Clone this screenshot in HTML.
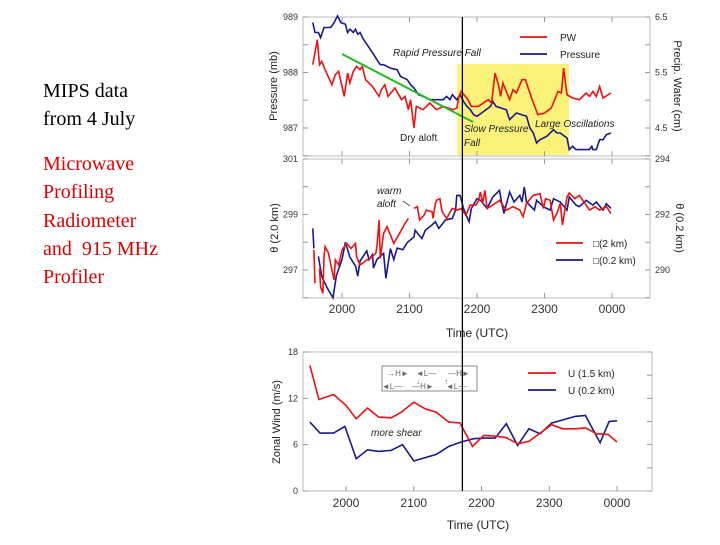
<!DOCTYPE html>
<html><head><meta charset="utf-8"><style>
body{margin:0;background:#fff;width:720px;height:540px;overflow:hidden}
svg text{font-family:"Liberation Sans",sans-serif}
</style></head><body>
<svg id="fig" width="720" height="540" viewBox="0 0 720 540" xmlns="http://www.w3.org/2000/svg">
<g font-family="Liberation Serif,serif" font-size="20">
<text x="43" y="97" fill="#000" style="font-family:'Liberation Serif',serif">MIPS data</text>
<text x="43" y="125" fill="#000" style="font-family:'Liberation Serif',serif">from 4 July</text>
<text x="43" y="170" fill="#e00000" style="font-family:'Liberation Serif',serif">Microwave</text>
<text x="43" y="198" fill="#e00000" style="font-family:'Liberation Serif',serif">Profiling</text>
<text x="43" y="227" fill="#e00000" style="font-family:'Liberation Serif',serif">Radiometer</text>
<text x="43" y="255" fill="#e00000" style="font-family:'Liberation Serif',serif" xml:space="preserve">and  915 MHz</text>
<text x="43" y="283" fill="#e00000" style="font-family:'Liberation Serif',serif">Profiler</text>
</g>
<g id="layer"></g>
</svg>
<script>
const pwTime=[-26,-22,-20,-18,-15,-9,-6,-3,2,5,7,10,13,16,18,21,27,33,35,38,41,47,53,56,59,61,64,66,72,78,84,90,99,102,104,106,112,115,121,130,133,136,139,141,143,149,152,155,160,163,168,174,180,186,192,195,197,200,205,211,217,220,223,226,229,232,239];
const pwVal=[5.64,6.09,5.64,5.70,5.55,5.28,5.46,5.52,5.07,5.49,5.31,5.52,5.61,5.55,5.61,5.37,5.25,5.07,5.19,5.28,5.07,5.22,5.01,5.07,4.83,5.01,4.50,4.89,4.83,4.95,4.83,4.89,4.83,4.86,5.07,5.16,5.01,4.89,4.89,5.01,4.95,5.49,5.28,5.07,5.31,5.01,5.19,5.13,5.37,5.37,5.07,4.74,4.77,4.86,5.16,5.13,5.58,5.10,5.04,5.01,5.13,5.07,5.16,5.07,5.25,5.04,5.13];
const prTime=[-26,-24,-21,-19,-16,-10,-7,-4,-1,3,5,7,10,12,14,16,19,22,25,28,31,34,37,43,49,52,58,61,64,68,72,78,90,93,96,98,102,105,108,111,114,117,120,126,132,134,137,146,149,152,155,164,167,170,173,176,182,188,191,194,200,202,205,208,220,222,223,226,229,232,235,239];
const prVal=[988.90,988.72,988.72,988.63,988.81,988.81,988.90,989.02,988.90,988.87,988.72,988.78,988.72,988.78,988.69,988.72,988.60,988.51,988.42,988.33,988.23,988.14,988.14,988.08,988.05,987.93,987.87,987.78,987.72,987.60,987.57,987.51,987.51,987.57,987.51,987.60,987.51,987.60,987.48,987.39,987.33,987.24,987.21,987.30,987.39,987.48,987.39,987.33,987.15,987.21,987.27,987.21,987.00,986.91,986.73,986.79,986.85,986.97,986.91,986.91,986.82,986.61,986.67,986.61,986.61,986.67,986.61,986.61,986.79,986.79,986.88,986.91];
const prTicks=[989,988,987];
const pwTicks=[6.5,5.5,4.5];
const t2Time=[-25,-24,null,-20,-19,-17,-16,-15,-12,-9,-7,-6,-3,0,4,8,12,13,16,22,25,30,31,33,34,37,40,46,52,56,59,null,64,67,69,73,75,80,81,83,84,87,89,93,98,102,106,110,114,119,121,123,125,127,129,134,140,146,152,158,161,164,170,176,179,181,185,188,191,194,196,200,202,207,211,216,220,225,229,235,239];
const t2Val=[297.72,296.52,null,297.06,296.40,296.16,297.48,297.84,297.60,297.00,296.64,297.36,297.18,297.72,297.96,297.78,297.96,297.48,297.18,297.36,297.42,297.60,297.84,298.80,297.42,298.32,298.56,297.96,298.38,298.68,298.86,null,299.22,299.28,298.80,298.98,299.16,299.10,298.86,299.40,299.51,299.57,299.10,298.86,299.22,299.16,299.22,298.98,299.34,299.34,299.46,299.81,299.40,299.87,299.22,299.34,299.51,299.16,299.28,299.16,298.92,299.40,299.69,299.75,299.22,299.57,299.51,298.80,299.04,299.40,298.62,299.63,299.78,299.57,299.69,299.40,299.16,299.28,299.16,299.28,299.04,299.16];
const t02Time=[-26,-25,null,-21,-18,-13,-8,-5,0,3,7,12,14,16,22,24,27,28,31,37,39,43,46,49,54,58,64,65,71,74,80,83,86,92,98,101,102,105,108,111,113,115,120,123,129,134,140,142,144,149,153,158,160,162,164,171,173,179,185,188,194,200,202,208,211,217,223,226,232,235,239];
const t02Val=[291.50,290.78,null,290.49,289.76,289.34,289.00,289.80,290.38,291.00,290.46,290.14,289.78,290.32,290.69,290.37,290.55,290.07,290.38,290.60,289.70,290.77,290.37,290.79,290.73,290.99,291.19,291.43,291.13,291.43,291.62,291.74,291.50,291.80,291.86,292.16,292.69,292.69,292.22,291.92,291.74,292.22,292.57,292.51,292.22,292.63,292.87,292.39,292.04,292.81,292.45,292.69,292.45,292.99,292.45,292.16,292.51,292.28,292.16,292.57,292.45,292.16,292.63,292.34,292.28,292.51,292.34,292.45,292.16,292.39,292.22];
const th2Ticks=[301,299,297];
const th02Ticks=[294,292,290];
const u15Time=[-32,-24,-11,0,9,19,29,40,49,60,70,80,91,101,112,122,132,142,152,162,172,182,192,203,212,222,232,240];
const u15Val=[16.25,11.85,12.5,11.08,9.35,10.73,9.57,9.48,10.2,11.5,10.65,10.2,8.92,8.8,5.78,7.2,7.11,6.9,6.12,6.42,7.5,8.58,8.06,8.06,8.19,7.41,7.33,6.34];
const u02Time=[-32,-23,-11,-1,9,19,29,40,50,60,80,91,102,113,122,132,142,152,162,172,182,203,212,225,233,240];
const u02Val=[8.92,7.5,7.5,8.36,4.18,5.34,5.13,5.26,5.99,3.88,4.74,5.78,6.34,6.77,6.85,6.85,8.71,5.91,8.06,7.41,8.79,9.66,9.78,6.25,9.0,9.09];
const uTicks=[18,12,6,0];
const timeTickMin=[0,60,120,180,240];
const timeTickLabels=['2000','2100','2200','2300','0000'];
const eventMin=107;

const NS='http://www.w3.org/2000/svg';
const layer=document.getElementById('layer');
function mk(tag,attrs,parent){const e=document.createElementNS(NS,tag);for(const k in attrs)e.setAttribute(k,attrs[k]);(parent||layer).appendChild(e);return e;}
function txt(s,attrs,parent){const e=mk('text',attrs,parent);e.textContent=s;return e;}
function lin(d0,d1,r0,r1){return v=>r0+(v-d0)*(r1-r0)/(d1-d0);}
function pathOf(ts,vs,xf,yf){let d='',pen=false;for(let i=0;i<ts.length;i++){if(ts[i]===null||vs[i]===null){pen=false;continue;}d+=(pen?'L':'M')+xf(ts[i]).toFixed(1)+','+yf(vs[i]).toFixed(1);pen=true;}return d;}

const xTop=lin(0,240,342,612);
const xBot=lin(0,240,346,617);
const yPr=lin(989,987,17,128);
const yPw=lin(6.5,4.5,17,128);
const yT2=lin(301,297,159,270);
const yT02=lin(294,290,159,270);
const yU=lin(18,0,352,491);
const TF=9;

let g1=mk('g',{});


let hl=mk('rect',{x:457,y:64,width:112,height:91,fill:'#fbf27a'},g1);


let b1=mk('rect',{x:303,y:17,width:347,height:139,fill:'none',stroke:'#bbb','stroke-width':1},g1);


prTicks.forEach(v=>{const y=yPr(v);
 let t=txt(String(v),{x:298,y:y+3,'font-size':TF,'text-anchor':'end',fill:'#333'},g1);
 
 
 mk('line',{x1:303,x2:308,y1:y,y2:y,stroke:'#999'},g1);
 mk('line',{x1:303,x2:308,y1:y+27.7,y2:y+27.7,stroke:'#999'},g1);});
pwTicks.forEach(v=>{const y=yPw(v);
 let t=txt(String(v),{x:655,y:y+3,'font-size':TF,fill:'#333'},g1);
 
 
 mk('line',{x1:645,x2:650,y1:y,y2:y,stroke:'#999'},g1);
 mk('line',{x1:645,x2:650,y1:y+27.7,y2:y+27.7,stroke:'#999'},g1);});
timeTickMin.forEach(m=>{mk('line',{x1:xTop(m),x2:xTop(m),y1:151,y2:156,stroke:'#999'},g1);mk('line',{x1:xTop(m),x2:xTop(m),y1:17,y2:22,stroke:'#999'},g1);});
let prL=mk('path',{d:pathOf(prTime,prVal,xTop,yPr),fill:'none',stroke:'#1a1a8c','stroke-width':1.6},g1);


let pwL=mk('path',{d:pathOf(pwTime,pwVal,xTop,yPw),fill:'none',stroke:'#f01010','stroke-width':1.6},g1);


let gl=mk('line',{x1:342,y1:54,x2:473,y2:122,stroke:'#22bb22','stroke-width':2},g1);


let yl1=txt('Pressure (mb)',{transform:'translate(277,86) rotate(-90)','font-size':11,'text-anchor':'middle',fill:'#222'},g1);


let yr1=txt('Precip. Water (cm)',{transform:'translate(674,86) rotate(90)','font-size':11,'text-anchor':'middle',fill:'#222'},g1);


[['#f01010','PW',37],['#1a1a8c','Pressure',54]].forEach(a=>{
 let l=mk('line',{x1:520,x2:547,y1:a[2],y2:a[2],stroke:a[0],'stroke-width':1.8},g1);
 
 
 let t=txt(a[1],{x:560,y:a[2]+4,'font-size':10,fill:'#222'},g1);
 
 });
[['Rapid Pressure Fall',393,56,1],['Dry aloft',400,141,0],['Slow Pressure',464,132,1],['Fall',464,146,1],['Large Oscillations',535,127,1]].forEach(a=>{
 let t=txt(a[0],{x:a[1],y:a[2],'font-size':10,fill:'#222','font-style':a[3]?'italic':'normal'},g1);
 
 });

let g2=mk('g',{});


let b2=mk('rect',{x:303,y:159,width:347,height:139,fill:'none',stroke:'#bbb'},g2);


th2Ticks.forEach(v=>{const y=yT2(v);
 let t=txt(String(v),{x:298,y:y+3,'font-size':TF,'text-anchor':'end',fill:'#333'},g2);
 
 
 mk('line',{x1:303,x2:308,y1:y+27.7,y2:y+27.7,stroke:'#999'},g2);mk('line',{x1:303,x2:308,y1:y,y2:y,stroke:'#999'},g2);});
th02Ticks.forEach(v=>{const y=yT02(v);
 let t=txt(String(v),{x:655,y:y+3,'font-size':TF,fill:'#333'},g2);
 
 
 mk('line',{x1:645,x2:650,y1:y+27.7,y2:y+27.7,stroke:'#999'},g2);mk('line',{x1:645,x2:650,y1:y,y2:y,stroke:'#999'},g2);});
timeTickMin.forEach((m,i)=>{mk('line',{x1:xTop(m),x2:xTop(m),y1:159,y2:164,stroke:'#999'},g2);mk('line',{x1:xTop(m),x2:xTop(m),y1:293,y2:298,stroke:'#999'},g2);
 let t=txt(timeTickLabels[i],{x:xTop(m),y:313,'font-size':12,'text-anchor':'middle',fill:'#333'},g2);
 
 });
let t02L=mk('path',{d:pathOf(t02Time,t02Val,xTop,yT02),fill:'none',stroke:'#1a1a8c','stroke-width':1.6},g2);


let t2L=mk('path',{d:pathOf(t2Time,t2Val,xTop,yT2),fill:'none',stroke:'#f01010','stroke-width':1.6},g2);


let yl2=txt('θ (2.0 km)',{transform:'translate(278,228) rotate(-90)','font-size':11,'text-anchor':'middle',fill:'#222'},g2);


let yr2=txt('θ (0.2 km)',{transform:'translate(676,228) rotate(90)','font-size':11,'text-anchor':'middle',fill:'#222'},g2);


[['#f01010','□(2 km)',243],['#1a1a8c','□(0.2 km)',260]].forEach(a=>{
 let l=mk('line',{x1:556,x2:583,y1:a[2],y2:a[2],stroke:a[0],'stroke-width':1.8},g2);
 
 
 let t=txt(a[1],{x:593,y:a[2]+4,'font-size':10,fill:'#222'},g2);
 
 });
let wa=txt('warm',{x:377,y:194,'font-size':10,'font-style':'italic',fill:'#222'},g2);


let wb=txt('aloft',{x:377,y:207,'font-size':10,'font-style':'italic',fill:'#222'},g2);


mk('line',{x1:403,y1:201,x2:410,y2:206,stroke:'#555'},g2);
let xt2=txt('Time (UTC)',{x:477,y:337,'font-size':12,'text-anchor':'middle',fill:'#222'},g2);



let g3=mk('g',{});


let b3=mk('rect',{x:303,y:352,width:349,height:139,fill:'none',stroke:'#bbb'},g3);


uTicks.forEach(v=>{const y=yU(v);
 let t=txt(String(v),{x:298,y:y+3,'font-size':TF,'text-anchor':'end',fill:'#333'},g3);
 
 
 mk('line',{x1:303,x2:308,y1:y,y2:y,stroke:'#999'},g3);mk('line',{x1:647,x2:652,y1:y,y2:y,stroke:'#999'},g3);
 if(v>0){mk('line',{x1:647,x2:652,y1:y+23.2,y2:y+23.2,stroke:'#999'},g3);}});
timeTickMin.forEach((m,i)=>{mk('line',{x1:xBot(m),x2:xBot(m),y1:486,y2:491,stroke:'#999'},g3);
 let t=txt(timeTickLabels[i],{x:xBot(m),y:507,'font-size':12,'text-anchor':'middle',fill:'#333'},g3);
 
 });
let u02L=mk('path',{d:pathOf(u02Time,u02Val,xBot,yU),fill:'none',stroke:'#1a1a8c','stroke-width':1.6},g3);


let u15L=mk('path',{d:pathOf(u15Time,u15Val,xBot,yU),fill:'none',stroke:'#f01010','stroke-width':1.6},g3);


let yl3=txt('Zonal Wind (m/s)',{transform:'translate(280,422) rotate(-90)','font-size':11,'text-anchor':'middle',fill:'#222'},g3);


[['#f01010','U (1.5 km)',373],['#1a1a8c','U (0.2 km)',390]].forEach(a=>{
 let l=mk('line',{x1:528,x2:556,y1:a[2],y2:a[2],stroke:a[0],'stroke-width':1.8},g3);
 
 
 let t=txt(a[1],{x:568,y:a[2]+4,'font-size':10,fill:'#222'},g3);
 
 });
let box=mk('rect',{x:382,y:366,width:95,height:25,fill:'#fff',stroke:'#888'},g3);


[['→H►',398,376],['◄L—',426,376],['—H►',459,376],['◄L—',392,389],['—H►',423,389],['◄L—',456,389],['↓',418,384],['↑',446,384]].forEach(a=>{
 let t=txt(a[0],{x:a[1],y:a[2],'font-size':8,fill:'#666','text-anchor':'middle'},g3);
 
 });
let ms=txt('more shear',{x:371,y:436,'font-size':10,'font-style':'italic',fill:'#222'},g3);


let xt3=txt('Time (UTC)',{x:478,y:529,'font-size':12,'text-anchor':'middle',fill:'#222'},g3);



let ev=mk('line',{x1:xTop(eventMin),x2:xTop(eventMin),y1:17,y2:491,stroke:'#000','stroke-width':1.3});


</script>
</body></html>
